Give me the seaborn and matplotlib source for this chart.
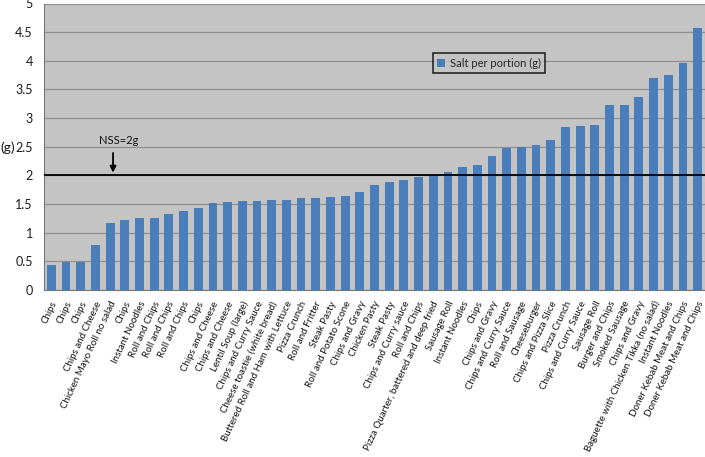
import matplotlib
matplotlib.use("Agg")
import matplotlib.pyplot as plt
import numpy as np
import pandas as pd
import seaborn as sns

# ─────────────────────────────────────────────
# Data
# ─────────────────────────────────────────────

foods = [
    "Chips", "Chips", "Chips", "Chips and Cheese", "Chicken Mayo Roll no salad",
    "Chips", "Instant Noodles", "Roll and Chips", "Roll and Chips", "Roll and Chips",
    "Chips", "Chips and Cheese", "Chips and Cheese", "Lentil Soup (large)",
    "Chips and Curry Sauce", "Cheese toastie (white bread)",
    "Buttered Roll and Ham with Lettuce", "Pizza Crunch", "Roll and Fritter",
    "Steak Pasty", "Roll and Potato Scone", "Chips and Gravy", "Chicken Pasty",
    "Steak Pasty", "Chips and Curry sauce", "Roll and Chips",
    "Pizza Quarter, battered and deep fried", "Sausage Roll", "Instant Noodles",
    "Chips", "Chips and Gravy", "Chips and Curry Sauce", "Roll and Sausage",
    "Cheeseburger", "Chips and Pizza Slice", "Pizza Crunch", "Chips and Curry Sauce",
    "Sausage Roll", "Burger and Chips", "Smoked Sausage", "Chips and Gravy",
    "Baguette with Chicken Tikka (no salad)", "Instant Noodles",
    "Doner Kebab Meat and Chips", "Doner Kebab Meat and Chips",
]

salt_g = [
    0.44, 0.48, 0.48, 0.78, 1.17, 1.23, 1.26, 1.26, 1.33, 1.37,
    1.43, 1.52, 1.53, 1.55, 1.55, 1.57, 1.57, 1.60, 1.60, 1.62,
    1.64, 1.71, 1.83, 1.89, 1.92, 1.98, 1.99, 2.06, 2.15, 2.19,
    2.33, 2.48, 2.49, 2.53, 2.62, 2.84, 2.87, 2.88, 3.22, 3.23,
    3.37, 3.70, 3.75, 3.97, 4.57,
]

nss_limit = 2.0
y_ticks = [0, 0.5, 1, 1.5, 2, 2.5, 3, 3.5, 4, 4.5, 5]
y_tick_labels = ["0", "0.5", "1", "1.5", "2", "2.5", "3", "3.5", "4", "4.5", "5"]

df = pd.DataFrame({"pos": range(len(salt_g)), "food": foods, "salt": salt_g})

# ─────────────────────────────────────────────
# Plot
# ─────────────────────────────────────────────

sns.set_style("white")
plt.rcParams["font.family"] = ["Lato", "DejaVu Sans"]

fig = plt.figure(figsize=(7.05, 4.57), dpi=100)
ax = fig.add_axes([44 / 705, 1 - 290 / 457, 1 - 44 / 705, (290 - 3.5) / 457])
ax.set_facecolor("#c4c4c4")

sns.barplot(
    data=df, x="pos", y="salt", color="#4a7ebb", saturation=1,
    width=0.6, linewidth=0, label="Salt per portion (g)", ax=ax, zorder=3,
)

ax.set_xlim(-0.5, len(salt_g) - 0.5)
ax.set_ylim(0, 5)
ax.set_yticks(y_ticks)
ax.set_yticklabels(y_tick_labels, fontsize=9, color="#1a1a1a")
ax.yaxis.grid(True, color="#8f8f8f", linewidth=0.9, zorder=1)
ax.set_axisbelow(True)

ax.set_xticks(np.arange(len(salt_g)) + 0.5)
ax.set_xticklabels([])
ax.tick_params(axis="x", length=4, color="#777777", direction="out")
ax.tick_params(axis="y", length=4, color="#777777", direction="out", pad=4)

# rotated category labels anchored below each bar
for i, name in enumerate(foods):
    ax.text(
        i - 0.05, -0.17, name, rotation=65, ha="right", va="top",
        rotation_mode="anchor", fontsize=7, color="#111111",
        transform=ax.transData, clip_on=False,
    )

ax.set_xlabel("")
ax.set_ylabel("")
for side in ["top", "right"]:
    ax.spines[side].set_visible(False)
ax.spines["left"].set_color("#777777")
ax.spines["bottom"].set_color("#777777")

# NSS threshold line and annotation
ax.axhline(nss_limit, color="black", linewidth=1.3, zorder=4)
ax.annotate(
    "", xy=(4.2, nss_limit), xytext=(4.2, 2.44),
    arrowprops=dict(arrowstyle="-|>", color="black", lw=1.3, mutation_scale=9),
    zorder=5,
)
ax.text(4.6, 2.52, "NSS=2g", ha="center", va="bottom", fontsize=8, color="#111111")

fig.text(0, 1 - 148 / 457, "(g)", ha="left", va="center", fontsize=10, color="#1a1a1a")

leg = ax.legend(
    loc="upper left", bbox_to_anchor=(0.58, 0.845), frameon=True, fancybox=False,
    fontsize=8, handlelength=0.7, handleheight=0.7, handletextpad=0.4,
    borderpad=0.4, facecolor="#c4c4c4",
)
leg.get_frame().set_edgecolor("black")
leg.get_frame().set_linewidth(1.2)

fig.savefig("out.png", dpi=100)
plt.close(fig)
